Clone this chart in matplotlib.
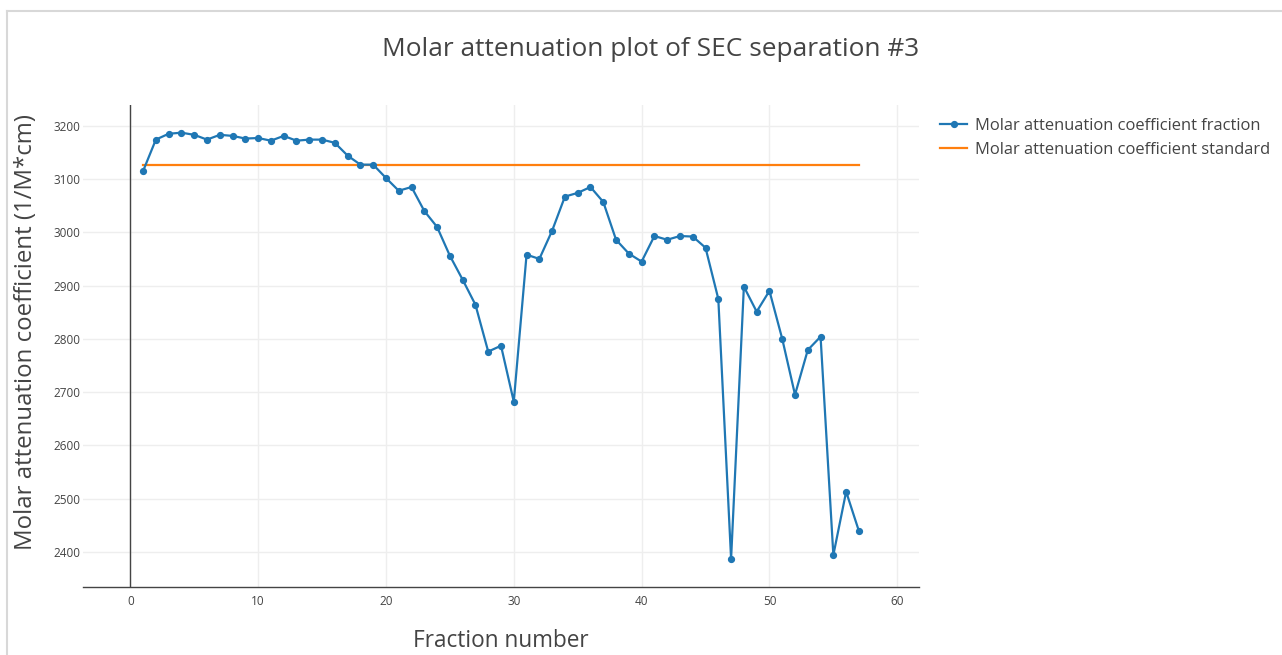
import matplotlib
matplotlib.use('Agg')
import matplotlib.pyplot as plt
from matplotlib.lines import Line2D

plt.rcParams['font.family'] = ['Open Sans', 'DejaVu Sans']

# fraction numbers and measured coefficients
fractions = list(range(1, 58))
coef_fraction = [3115, 3174, 3185, 3187, 3183, 3174, 3183, 3181, 3176, 3177,
                 3172, 3181, 3172, 3174, 3174, 3168, 3144, 3127, 3127, 3102,
                 3078, 3085, 3040, 3010, 2956, 2911, 2864, 2776, 2787, 2682,
                 2958, 2950, 3003, 3067, 3074, 3085, 3057, 2986, 2960, 2945,
                 2993, 2986, 2993, 2992, 2971, 2875, 2387, 2898, 2851, 2890,
                 2800, 2695, 2779, 2804, 2394, 2513, 2439]
std_x = [1, 57]
std_value = [3126, 3126]

xticks = [0, 10, 20, 30, 40, 50, 60]
yticks = [2400, 2500, 2600, 2700, 2800, 2900, 3000, 3100, 3200]

W, H = 1282, 655
fig = plt.figure(figsize=(W / 100, H / 100), dpi=100)
ax = fig.add_axes([83 / W, 1 - 587 / H, (919 - 83) / W, (587 - 105) / H])

c1 = '#1f77b4'
c2 = '#ff7f0e'
ax.plot(fractions, coef_fraction, 'o-', color=c1, lw=1.6, ms=4.2,
        label='Molar attenuation coefficient fraction', zorder=3)
ax.plot(std_x, std_value, '-', color=c2, lw=1.6,
        label='Molar attenuation coefficient standard', zorder=2)

ax.set_xlim(-3.7, 61.7)
ax.set_ylim(2334, 3239)
ax.set_xticks(xticks)
ax.set_yticks(yticks)
ax.grid(True, color='#eeeeee', lw=1)
ax.set_axisbelow(True)
ax.axvline(0, color='#444444', lw=1, zorder=1)
for s in ['top', 'right', 'left']:
    ax.spines[s].set_visible(False)
ax.spines['bottom'].set_color('#444444')
ax.spines['bottom'].set_linewidth(1)
ax.tick_params(length=0, labelsize=8.5, labelcolor='#444444')
ax.tick_params(axis='x', pad=6)
ax.tick_params(axis='y', pad=2)

fig.text(651 / W, 1 - 50 / H, 'Molar attenuation plot of SEC separation #3',
         ha='center', va='center', fontsize=18.9, color='#444444')
fig.text(26 / W, 1 - 332 / H, 'Molar attenuation coefficient (1/M*cm)',
         rotation=90, ha='center', va='center', fontsize=17.3, color='#444444')
fig.text(501 / W, 1 - 641 / H, 'Fraction number',
         ha='center', va='center', fontsize=16.3, color='#444444')

ax.legend(loc='upper left', bbox_to_anchor=(940 / W, 1 - 118 / H),
          bbox_transform=fig.transFigure, frameon=False, fontsize=11.9,
          handlelength=1.65, handletextpad=0.45, labelspacing=0.5,
          labelcolor='#444444', borderaxespad=0, borderpad=0)

# page frame
fig.add_artist(Line2D([7 / W, 7 / W], [0, 1 - 11 / H], color='#d8d8d8', lw=1.5))
fig.add_artist(Line2D([7 / W, 1], [1 - 11 / H, 1 - 11 / H], color='#d8d8d8', lw=1.5))

fig.savefig('out.png', dpi=100)
